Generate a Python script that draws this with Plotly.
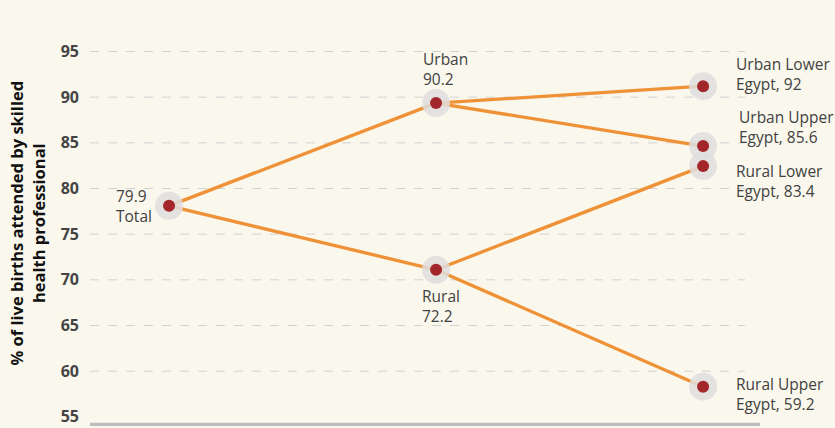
import plotly.graph_objects as go

# ---- data ----
node_names = ["Total", "Urban", "Rural", "Urban Lower Egypt", "Urban Upper Egypt",
              "Rural Lower Egypt", "Rural Upper Egypt"]
node_stage = [0, 1, 1, 2, 2, 2, 2]
# values as printed in the labels
label_values = [79.9, 90.2, 72.2, 92, 85.6, 83.4, 59.2]
# vertical positions at which the points are drawn in the picture
plotted_values = [78.1, 89.35, 71.1, 91.2, 84.65, 82.45, 58.3]
links = [(0, 1), (0, 2), (1, 3), (1, 4), (2, 5), (2, 6)]
y_ticks = [55, 60, 65, 70, 75, 80, 85, 90, 95]

bg = "#faf7ec"
orange = "#ef9237"
dot_red = "#a3262a"
halo = "rgba(222,222,222,0.85)"
text_col = "#424242"
label_font = dict(family="Open Sans, sans-serif", size=15.5, color=text_col)

fig = go.Figure()

# link lines
lx, ly = [], []
for a, b in links:
    lx += [node_stage[a], node_stage[b], None]
    ly += [plotted_values[a], plotted_values[b], None]
fig.add_trace(go.Scatter(x=lx, y=ly, mode="lines",
                         line=dict(color=orange, width=3.3),
                         hoverinfo="skip", showlegend=False))
# halos
fig.add_trace(go.Scatter(x=node_stage, y=plotted_values, mode="markers",
                         marker=dict(size=28, color=halo, line=dict(width=0)),
                         hoverinfo="skip", showlegend=False))
# dots
fig.add_trace(go.Scatter(x=node_stage, y=plotted_values, mode="markers",
                         marker=dict(size=12, color=dot_red, line=dict(width=0)),
                         text=node_names, customdata=label_values,
                         hovertemplate="%{text}: %{customdata}<extra></extra>",
                         showlegend=False))

# gridlines (no line at the bottom tick)
shapes = []
for t in y_ticks[1:]:
    shapes.append(dict(type="line", xref="paper", yref="y", x0=0, x1=1, y0=t, y1=t,
                       line=dict(color="#d2d2d2", width=1, dash="dash"), layer="below"))
shapes.append(dict(type="line", xref="paper", yref="y", x0=0, x1=1.023, y0=54.15, y1=54.15,
                   line=dict(color="#bcbcbc", width=4)))

def fmt(v):
    return f"{v:g}"

ann = []
ann.append(dict(x=node_stage[0], y=plotted_values[0], xref="x", yref="y",
                text=f"{fmt(label_values[0])}<br>Total", showarrow=False,
                xanchor="right", yanchor="middle", align="left",
                xshift=-15, yshift=0, font=label_font))
ann.append(dict(x=node_stage[1], y=plotted_values[1], xref="x", yref="y",
                text=f"Urban<br>{fmt(label_values[1])}", showarrow=False,
                xanchor="left", yanchor="bottom", align="left",
                xshift=-15, yshift=11, font=label_font))
ann.append(dict(x=node_stage[2], y=plotted_values[2], xref="x", yref="y",
                text=f"Rural<br>{fmt(label_values[2])}", showarrow=False,
                xanchor="left", yanchor="top", align="left",
                xshift=-16, yshift=-13, font=label_font))
right_text = ["Urban Lower<br>Egypt, ", "Urban Upper<br>Egypt, ",
              "Rural Lower<br>Egypt, ", "Rural Upper<br>Egypt, "]
right_yshift = [12, 19, -15, -7]
right_xshift = [31, 34, 31, 31]
for i, k in enumerate(range(3, 7)):
    ann.append(dict(x=node_stage[k], y=plotted_values[k], xref="x", yref="y",
                    text=right_text[i] + fmt(label_values[k]), showarrow=False,
                    xanchor="left", yanchor="middle", align="left",
                    xshift=right_xshift[i], yshift=right_yshift[i], font=label_font))
ann.append(dict(x=-0.0955, y=0.534, xref="paper", yref="paper",
                text="% of live births attended by skilled<br>health professional",
                textangle=-90, showarrow=False, xanchor="center", yanchor="middle",
                font=dict(family="Open Sans, sans-serif", size=16.5, color="#111111",
                          weight="bold")))

fig.update_layout(
    width=835, height=428,
    margin=dict(l=90, r=90, t=46, b=2),
    paper_bgcolor=bg, plot_bgcolor=bg,
    shapes=shapes, annotations=ann,
    xaxis=dict(range=[-0.296, 2.157], showgrid=False, zeroline=False,
               showticklabels=False, showline=False, fixedrange=True),
    yaxis=dict(range=[54, 95.6], tickvals=y_ticks, ticktext=[str(t) for t in y_ticks],
               showgrid=False, zeroline=False, showline=False, ticks="",
               ticklabelstandoff=10,
               tickfont=dict(family="Open Sans, sans-serif", size=16, color="#444444",
                             weight="bold")),
)

fig.write_html("out.html", config={"displayModeBar": False},
               post_script="document.body.style.margin='0';document.body.style.overflow='hidden';")
